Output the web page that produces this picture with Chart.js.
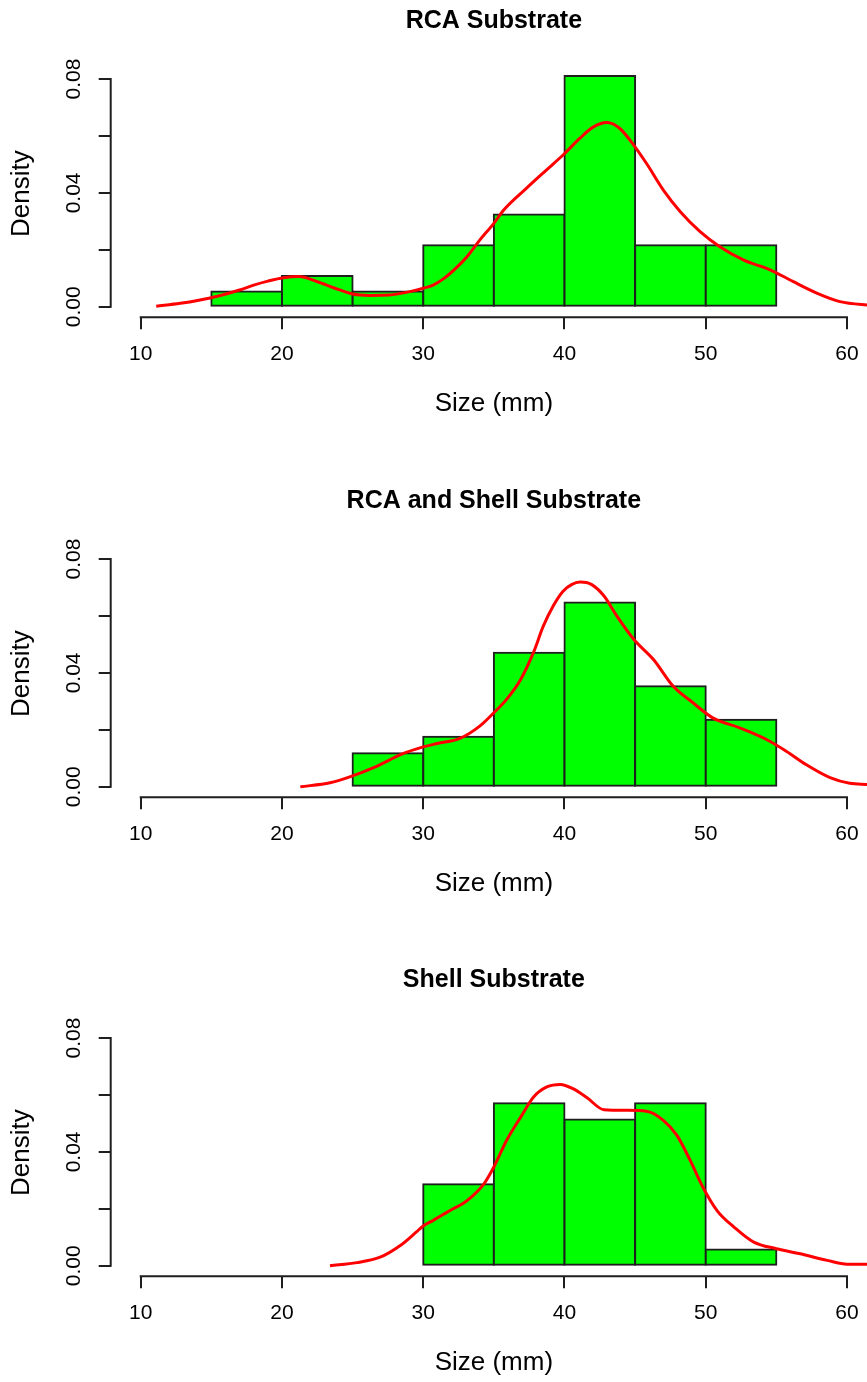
<!DOCTYPE html>
<html>
<head>
<meta charset="utf-8">
<script src="https://cdn.jsdelivr.net/npm/chart.js@4.4.1/dist/chart.umd.min.js"></script>
<style>
  html, body { margin: 0; padding: 0; background: #fff; overflow: hidden; width: 867px; height: 1382px; }
  .panel { position: absolute; left: 0; width: 877px; height: 430px; }
  .panel canvas { display: block; }
</style>
</head>
<body>
<div class="panel" style="top:0px"><canvas id="rca" width="877" height="430"></canvas></div>
<div class="panel" style="top:480px"><canvas id="rcaShell" width="877" height="430"></canvas></div>
<div class="panel" style="top:959px"><canvas id="shell" width="877" height="430"></canvas></div>
<script>
// Panel titles and shared axis labels
const panelTitles = ['RCA Substrate', 'RCA and Shell Substrate', 'Shell Substrate'];
const xAxisLabel = 'Size (mm)';
const yAxisLabel = 'Density';

// Axis ticks
const xTickValues = [10, 20, 30, 40, 50, 60];
const yTickValues = [0, 0.02, 0.04, 0.06, 0.08];
const yTickLabels = ['0.00', '', '0.04', '', '0.08'];

// RCA substrate: histogram bin edges and densities
const rcaBreaks  = [15, 20, 25, 30, 35, 40, 45, 50, 55];
const rcaDensity = [0.0054, 0.0108, 0.0054, 0.0216, 0.0324, 0.0811, 0.0216, 0.0216];
// RCA substrate: kernel density curve
const rcaCurveX = [11.1, 12.8, 14.2, 15.5, 17.0, 18.0, 19.0, 20.1, 21.2, 22.5, 23.7, 25.0, 26.2, 27.6, 28.4, 29.2, 30.0, 30.7, 31.4, 32.3, 33.1, 34.0, 35.0, 35.7, 37.3, 38.6, 39.9, 41.1, 42.0, 43.0, 43.9, 44.9, 45.8, 47.0, 48.2, 49.6, 51.0, 52.7, 54.6, 56.2, 57.9, 59.5, 61.4, 62.1];
const rcaCurveY = [0.0002, 0.0012, 0.0024, 0.0038, 0.0059, 0.0076, 0.0090, 0.0102, 0.0106, 0.0088, 0.0066, 0.0045, 0.0040, 0.0041, 0.0047, 0.0055, 0.0065, 0.0076, 0.0097, 0.0135, 0.0176, 0.0234, 0.0293, 0.0340, 0.0416, 0.0475, 0.0533, 0.0592, 0.0630, 0.0647, 0.0627, 0.0568, 0.0504, 0.0410, 0.0334, 0.0264, 0.0211, 0.0164, 0.0129, 0.0088, 0.0047, 0.0018, 0.0006, 0.0004];

// RCA and shell substrate
const rcaShellBreaks  = [25, 30, 35, 40, 45, 50, 55];
const rcaShellDensity = [0.0118, 0.0176, 0.0471, 0.0647, 0.0353, 0.0235];
const rcaShellCurveX = [21.3, 23.4, 24.8, 26.7, 28.4, 30.0, 31.0, 32.6, 34.0, 35.0, 35.9, 36.9, 37.8, 38.5, 39.2, 39.9, 40.5, 41.1, 41.9, 42.8, 43.7, 44.9, 46.3, 47.7, 49.1, 50.5, 52.4, 54.3, 55.7, 57.1, 58.8, 60.2, 61.4, 62.1];
const rcaShellCurveY = [0.0000, 0.0014, 0.0035, 0.0072, 0.0113, 0.0140, 0.0152, 0.0170, 0.0213, 0.0260, 0.0307, 0.0377, 0.0471, 0.0564, 0.0635, 0.0687, 0.0710, 0.0719, 0.0711, 0.0670, 0.0600, 0.0518, 0.0447, 0.0353, 0.0295, 0.0242, 0.0207, 0.0166, 0.0125, 0.0078, 0.0032, 0.0012, 0.0008, 0.0006];

// Shell substrate
const shellBreaks  = [30, 35, 40, 45, 50, 55];
const shellDensity = [0.0286, 0.0571, 0.0514, 0.0571, 0.0057];
const shellCurveX = [23.4, 25.3, 26.95, 28.4, 29.5, 30.0, 30.7, 31.4, 31.9, 33.1, 34.3, 35.0, 35.9, 36.9, 37.8, 38.75, 39.7, 40.6, 41.6, 42.8, 44.4, 45.8, 47.0, 47.96, 48.9, 49.8, 50.8, 52.0, 53.4, 55.0, 56.7, 58.6, 60.2, 61.4, 62.1];
const shellCurveY = [0.0000, 0.0011, 0.0030, 0.0072, 0.0118, 0.0140, 0.0159, 0.0180, 0.0194, 0.0229, 0.0288, 0.0347, 0.0440, 0.0522, 0.0592, 0.0628, 0.0637, 0.0622, 0.0590, 0.0548, 0.0546, 0.0543, 0.0511, 0.0458, 0.0370, 0.0276, 0.0194, 0.0136, 0.0083, 0.0060, 0.0042, 0.0019, 0.0005, 0.0005, 0.0004];

const FONT = '"Liberation Sans", Arial, Helvetica, sans-serif';
const INK = '#1e1e1e';

// Axis lines that run only between the first and last tick
const tickSpanAxes = {
  id: 'tickSpanAxes',
  afterDraw(chart) {
    const { ctx, chartArea, scales: { x, y } } = chart;
    ctx.save();
    ctx.strokeStyle = INK;
    ctx.lineWidth = 2;
    ctx.beginPath();
    ctx.moveTo(x.getPixelForValue(xTickValues[0]) - 1, chartArea.bottom);
    ctx.lineTo(x.getPixelForValue(xTickValues[xTickValues.length - 1]) + 1, chartArea.bottom);
    ctx.moveTo(chartArea.left, y.getPixelForValue(yTickValues[0]) + 1);
    ctx.lineTo(chartArea.left, y.getPixelForValue(yTickValues[yTickValues.length - 1]) - 1);
    ctx.stroke();
    ctx.restore();
  }
};

function zeroPadding(s) {
  s.paddingLeft = 0; s.paddingRight = 0; s.paddingTop = 0; s.paddingBottom = 0;
}

function histogramPanel(canvasId, title, breaks, density, curveX, curveY) {
  const bars = density.map((d, i) => ({ x: (breaks[i] + breaks[i + 1]) / 2, y: d }));
  const curve = curveX.map((v, i) => ({ x: v, y: curveY[i] }));
  return new Chart(document.getElementById(canvasId), {
    type: 'bar',
    data: {
      datasets: [
        {
          type: 'line',
          data: curve,
          borderColor: '#ff0000',
          borderWidth: 3,
          pointRadius: 0,
          fill: false,
          cubicInterpolationMode: 'monotone',
          order: 0
        },
        {
          type: 'bar',
          data: bars,
          backgroundColor: '#00ff00',
          borderColor: INK,
          borderWidth: 2,
          inflateAmount: 1,
          borderSkipped: false,
          categoryPercentage: 1,
          barPercentage: 1,
          order: 1
        }
      ]
    },
    options: {
      responsive: false,
      animation: false,
      events: [],
      devicePixelRatio: 1,
      layout: { padding: 0 },
      plugins: {
        legend: { display: false },
        tooltip: { enabled: false },
        title: {
          display: true,
          text: title,
          fullSize: false,
          color: '#000',
          font: { family: FONT, size: 25, weight: 'bold', lineHeight: 1 },
          padding: { top: 8.5, bottom: 36.4 }
        }
      },
      scales: {
        x: {
          type: 'linear',
          min: 7.875,
          max: 62.125,
          offset: false,
          border: { display: false },
          grid: { offset: false, drawOnChartArea: false, drawTicks: true, tickLength: 12, color: INK, lineWidth: 2 },
          afterBuildTicks: s => { s.ticks = xTickValues.map(v => ({ value: v })); },
          afterFit: s => { s.height = 112.7; zeroPadding(s); },
          ticks: {
            autoSkip: false, minRotation: 0, maxRotation: 0, padding: 14.7, color: '#000',
            font: { family: FONT, size: 21, lineHeight: 1 }
          },
          title: {
            display: true, text: xAxisLabel, color: '#000',
            font: { family: FONT, size: 26, lineHeight: 1 },
            padding: { top: 0, bottom: 13 }
          }
        },
        y: {
          type: 'linear',
          min: -0.0037,
          max: 0.0832,
          border: { display: false },
          grid: { drawOnChartArea: false, drawTicks: true, tickLength: 12, color: INK, lineWidth: 2 },
          afterBuildTicks: s => { s.ticks = yTickValues.map(v => ({ value: v })); },
          afterFit: s => { s.width = 110.7; zeroPadding(s); },
          ticks: {
            autoSkip: false, minRotation: 90, maxRotation: 90, crossAlign: 'center', padding: 4.3,
            color: '#000',
            font: { family: FONT, size: 21, lineHeight: 1 },
            callback: (value, index) => yTickLabels[index]
          },
          title: {
            display: true, text: yAxisLabel, color: '#000',
            font: { family: FONT, size: 26, lineHeight: 1 },
            padding: { top: 9, bottom: 0 }
          }
        }
      }
    },
    plugins: [tickSpanAxes]
  });
}

histogramPanel('rca', panelTitles[0], rcaBreaks, rcaDensity, rcaCurveX, rcaCurveY);
histogramPanel('rcaShell', panelTitles[1], rcaShellBreaks, rcaShellDensity, rcaShellCurveX, rcaShellCurveY);
histogramPanel('shell', panelTitles[2], shellBreaks, shellDensity, shellCurveX, shellCurveY);
</script>
</body>
</html>
